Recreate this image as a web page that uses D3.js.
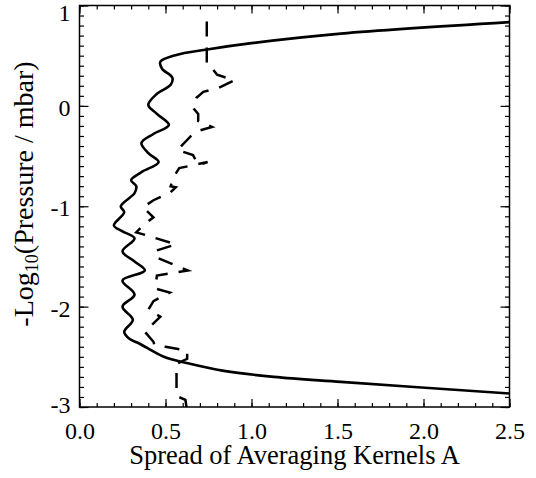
<!DOCTYPE html>
<html>
<head>
<meta charset="utf-8">
<script src="https://cdn.jsdelivr.net/npm/d3@7"></script>
<style>
  body { margin: 0; background: #fff; }
  svg text { font-family: "Liberation Serif", "Times New Roman", serif; fill: #000; }
</style>
</head>
<body>
<svg id="chart" width="536" height="478"></svg>
<script>
// solid curve: [spread, -log10(p)]
var solidSpread = [2.5, 1.52, 1.0, 0.742, 0.558, 0.47, 0.48, 0.54, 0.53, 0.45, 0.40, 0.45, 0.52, 0.43, 0.36, 0.40, 0.46, 0.36, 0.30, 0.33, 0.32, 0.24, 0.26, 0.20, 0.25, 0.32, 0.25, 0.32, 0.38, 0.25, 0.32, 0.25, 0.31, 0.26, 0.29, 0.35, 0.49, 0.63, 0.84, 1.13, 1.52, 2.5];
var solidLevel = [0.834, 0.72, 0.625, 0.562, 0.505, 0.44, 0.37, 0.28, 0.21, 0.12, 0.01, -0.08, -0.19, -0.28, -0.37, -0.47, -0.56, -0.66, -0.74, -0.80, -0.87, -1.0, -1.06, -1.19, -1.25, -1.32, -1.45, -1.55, -1.64, -1.74, -1.88, -2.0, -2.13, -2.25, -2.32, -2.37, -2.50, -2.565, -2.64, -2.70, -2.75, -2.865];

// dashed curve
var dashSpread = [0.74, 0.74, 0.76, 0.80, 0.90, 0.81, 0.72, 0.68, 0.66, 0.69, 0.69, 0.77, 0.67, 0.62, 0.57, 0.66, 0.69, 0.745, 0.58, 0.55, 0.53, 0.56, 0.53, 0.43, 0.37, 0.43, 0.37, 0.33, 0.41, 0.56, 0.45, 0.435, 0.46, 0.63, 0.45, 0.44, 0.525, 0.43, 0.40, 0.47, 0.38, 0.43, 0.435, 0.50, 0.626, 0.626, 0.564, 0.564, 0.616, 0.63];
var dashLevel = [0.84, 0.41, 0.40, 0.31, 0.255, 0.18, 0.14, 0.08, -0.02, -0.08, -0.15, -0.21, -0.26, -0.35, -0.44, -0.49, -0.59, -0.56, -0.62, -0.70, -0.80, -0.81, -0.86, -0.94, -1.01, -1.11, -1.19, -1.26, -1.30, -1.38, -1.44, -1.49, -1.52, -1.64, -1.69, -1.82, -1.86, -1.945, -2.03, -2.10, -2.25, -2.35, -2.38, -2.40, -2.44, -2.52, -2.57, -2.89, -2.93, -3.1];

var xTicks = [0.0, 0.5, 1.0, 1.5, 2.0, 2.5];
var yTicks = [1, 0, -1, -2, -3];

var padL = 79.5, padR = 509.5, padT = 5.5, padB = 407;

var x = d3.scaleLinear().domain([0, 2.5]).range([padL, padR]);
var y = d3.scaleLinear().domain([-3, 1]).range([padB, padT]);

const svg = d3.select('#chart');

svg.append('clipPath').attr('id', 'plotclip')
    .append('rect')
    .attr('x', padL).attr('y', padT)
    .attr('width', padR - padL).attr('height', padB - padT);

var xMinor = d3.range(0, 26).map(function (i) { return i / 10; });
var yMinor = d3.range(0, 41).map(function (i) { return -3 + i / 10; });

function styleAxis(g) {
    g.select('.domain').remove();
    g.selectAll('line').attr('stroke', '#000').attr('stroke-width', 1.2);
}

// bottom
svg.append('g').attr('transform', 'translate(0,' + padB + ')')
    .call(d3.axisBottom(x).tickValues(xMinor).tickSize(-4).tickFormat(''))
    .call(styleAxis);
svg.append('g').attr('transform', 'translate(0,' + padB + ')')
    .call(d3.axisBottom(x).tickValues(xTicks).tickSize(-8).tickPadding(15).tickFormat(d3.format('.1f')))
    .call(styleAxis)
    .selectAll('text').attr('font-size', 24);
// top
svg.append('g').attr('transform', 'translate(0,' + padT + ')')
    .call(d3.axisTop(x).tickValues(xMinor).tickSize(-4).tickFormat(''))
    .call(styleAxis);
svg.append('g').attr('transform', 'translate(0,' + padT + ')')
    .call(d3.axisTop(x).tickValues(xTicks).tickSize(-8).tickFormat(''))
    .call(styleAxis);
// left
svg.append('g').attr('transform', 'translate(' + padL + ',0)')
    .call(d3.axisLeft(y).tickValues(yMinor).tickSize(-4.5).tickFormat(''))
    .call(styleAxis);
svg.append('g').attr('transform', 'translate(' + padL + ',0)')
    .call(d3.axisLeft(y).tickValues(yTicks).tickSize(-9).tickPadding(9).tickFormat(function (d) { return String(d); }))
    .call(styleAxis)
    .selectAll('text').attr('font-size', 24)
    .attr('dy', function (d) {
        // end labels sit a bit inside the frame, as in the original
        if (d == 1) return '0.62em';
        if (d == -3) return '0.22em';
        return '0.40em';
    });
// right
svg.append('g').attr('transform', 'translate(' + padR + ',0)')
    .call(d3.axisRight(y).tickValues(yMinor).tickSize(-4.5).tickFormat(''))
    .call(styleAxis);
svg.append('g').attr('transform', 'translate(' + padR + ',0)')
    .call(d3.axisRight(y).tickValues(yTicks).tickSize(-9).tickFormat(''))
    .call(styleAxis);

// frame
svg.append('rect')
    .attr('x', padL).attr('y', padT)
    .attr('width', padR - padL).attr('height', padB - padT)
    .attr('fill', 'none').attr('stroke', '#000').attr('stroke-width', 1.5);

var solid = solidSpread.map(function (d, i) { return [d, solidLevel[i]]; });
var dashed = dashSpread.map(function (d, i) { return [d, dashLevel[i]]; });

var smoothLine = d3.line()
    .curve(d3.curveCatmullRom.alpha(0.5))
    .x(function (d) { return x(d[0]); })
    .y(function (d) { return y(d[1]); });
var line = d3.line()
    .x(function (d) { return x(d[0]); })
    .y(function (d) { return y(d[1]); });

var plot = svg.append('g').attr('clip-path', 'url(#plotclip)');
plot.append('path').attr('d', smoothLine(solid))
    .attr('fill', 'none').attr('stroke', '#000').attr('stroke-width', 2.6)
    .attr('stroke-linejoin', 'round');
plot.append('path').attr('d', line(dashed))
    .attr('fill', 'none').attr('stroke', '#000').attr('stroke-width', 2.5)
    .attr('stroke-dasharray', '15,11');

// axis titles
svg.append('text')
    .attr('x', (padL + padR) / 2).attr('y', 464)
    .attr('text-anchor', 'middle').attr('font-size', 26.5)
    .text('Spread of Averaging Kernels A');

var yt = svg.append('text')
    .attr('transform', 'translate(33,194) rotate(-90)')
    .attr('text-anchor', 'middle').attr('font-size', 28);
yt.append('tspan').text('-Log');
yt.append('tspan').attr('font-size', 18).attr('dy', 5).text('10');
yt.append('tspan').attr('dy', -5).text('(Pressure / mbar)');
</script>
</body>
</html>
